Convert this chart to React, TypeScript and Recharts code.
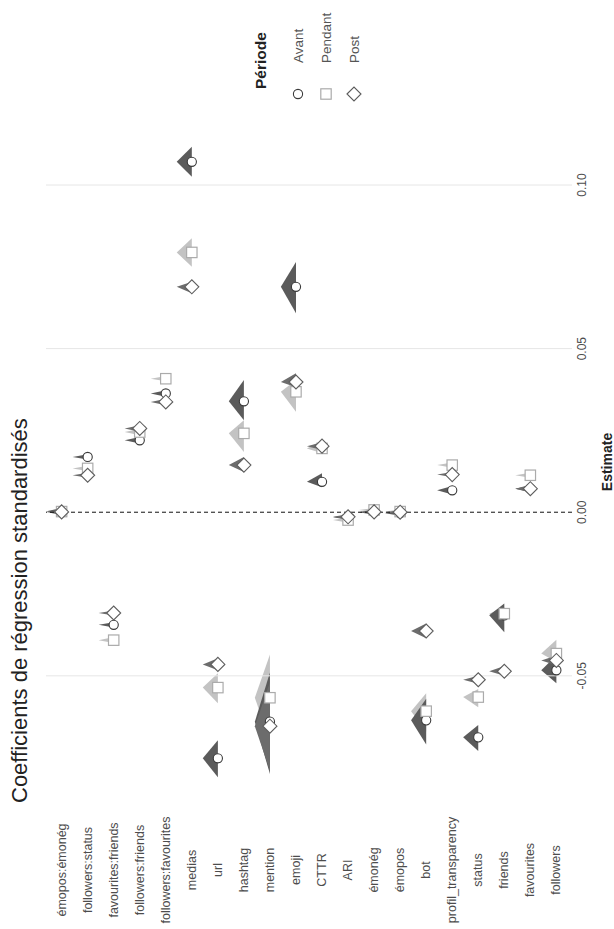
import React from 'react'
import { ComposedChart, Area, Scatter, XAxis, YAxis, ReferenceLine, Label } from 'recharts'

const categories = [
  'émopos:émonég', 'followers:status', 'favourites:friends', 'followers:friends', 'followers:favourites',
  'medias', 'url', 'hashtag', 'mention', 'emoji', 'CTTR', 'ARI', 'émonég', 'émopos', 'bot',
  'profil_transparency', 'status', 'friends', 'favourites', 'followers',
]

// estimates and slab extents per period, same order as categories
const avantEst = [0.0003, 0.0169, -0.0344, 0.0220, 0.0363, 0.1071, -0.0752, 0.0339, -0.0640, 0.0689, 0.0093, -0.0015, 0.0000, -0.0003, -0.0636, 0.0067, -0.0688, -0.0315, 0.0072, -0.0483]
const avantLow = [-0.0007, 0.0161, -0.0352, 0.0210, 0.0353, 0.1025, -0.0810, 0.0281, -0.0800, 0.0608, 0.0076, -0.0023, -0.0008, -0.0011, -0.0710, 0.0054, -0.0730, -0.0367, 0.0062, -0.0523]
const avantHigh = [0.0013, 0.0177, -0.0336, 0.0230, 0.0373, 0.1117, -0.0697, 0.0404, -0.0490, 0.0765, 0.0119, -0.0007, 0.0008, 0.0005, -0.0570, 0.0080, -0.0650, -0.0279, 0.0082, -0.0437]

const pendantEst = [0.0002, 0.0134, -0.0391, 0.0245, 0.0408, 0.0794, -0.0536, 0.0241, -0.0567, 0.0368, 0.0195, -0.0024, 0.0007, 0.0002, -0.0608, 0.0144, -0.0565, -0.0310, 0.0113, -0.0432]
const pendantLow = [-0.0004, 0.0126, -0.0400, 0.0235, 0.0400, 0.0750, -0.0584, 0.0184, -0.0700, 0.0307, 0.0180, -0.0032, 0.0001, -0.0004, -0.0670, 0.0136, -0.0596, -0.0330, 0.0105, -0.0458]
const pendantHigh = [0.0008, 0.0142, -0.0381, 0.0255, 0.0416, 0.0837, -0.0492, 0.0281, -0.0435, 0.0404, 0.0220, -0.0016, 0.0013, 0.0008, -0.0553, 0.0152, -0.0540, -0.0290, 0.0121, -0.0390]

const postEst = [0.0001, 0.0113, -0.0308, 0.0256, 0.0337, 0.0689, -0.0465, 0.0144, -0.0654, 0.0398, 0.0202, -0.0014, 0.0001, 0.0000, -0.0363, 0.0115, -0.0512, -0.0486, 0.0072, -0.0453]
const postLow = [-0.0009, 0.0105, -0.0316, 0.0246, 0.0327, 0.0669, -0.0483, 0.0123, -0.0790, 0.0382, 0.0190, -0.0022, -0.0005, -0.0006, -0.0385, 0.0107, -0.0524, -0.0500, 0.0060, -0.0468]
const postHigh = [0.0011, 0.0121, -0.0300, 0.0266, 0.0347, 0.0704, -0.0446, 0.0169, -0.0520, 0.0425, 0.0214, -0.0006, 0.0007, 0.0006, -0.0340, 0.0123, -0.0500, -0.0470, 0.0084, -0.0438]

const estimateTicks = [-0.05, 0, 0.05, 0.1]

const W = 929
const H = 614
const SLAB_DEPTH = 0.58
const FONT = '"Liberation Sans", Arial, sans-serif'

type Shape = 'circle' | 'square' | 'diamond'

const series = [
  { name: 'Avant', est: avantEst, low: avantLow, high: avantHigh, slab: '#5b5b5b', stroke: '#3a3a3a', shape: 'circle' as Shape },
  { name: 'Pendant', est: pendantEst, low: pendantLow, high: pendantHigh, slab: '#c3c3c3', stroke: '#ababab', shape: 'square' as Shape },
  { name: 'Post', est: postEst, low: postLow, high: postHigh, slab: '#6c6c6c', stroke: '#5e5e5e', shape: 'diamond' as Shape },
]

// light slabs go underneath the dark ones
const slabOrder = [1, 0, 2]

function slabPoints(s: typeof series[number], i: number) {
  return [
    { x: s.low[i], band: [i, i] },
    { x: s.est[i], band: [i - SLAB_DEPTH, i] },
    { x: s.high[i], band: [i, i] },
  ]
}

function Marker({ shape, cx, cy, stroke }: { shape: Shape; cx: number; cy: number; stroke: string }) {
  if (shape === 'circle') return <circle cx={cx} cy={cy} r={4.6} fill="#fff" stroke={stroke} strokeWidth={1.1} />
  if (shape === 'square') return <rect x={cx - 5.2} y={cy - 5.2} width={10.4} height={10.4} fill="#fff" stroke={stroke} strokeWidth={1.2} />
  const d = 7
  return <polygon points={`${cx},${cy - d} ${cx + d},${cy} ${cx},${cy + d} ${cx - d},${cy}`} fill="#fff" stroke={stroke} strokeWidth={1.1} />
}

const CategoryTick = (props: any) => {
  const { x, y, payload } = props
  return (
    <text x={x - 61} y={y} textAnchor="middle" dominantBaseline="central" fontSize={12.5} fill="#4d4d4d" fontFamily={FONT}>
      {categories[payload.value]}
    </text>
  )
}

function PeriodLegend() {
  return (
    <>
      <div style={{ position: 'absolute', left: 840, top: 252, fontSize: 15.5, fontWeight: 'bold', color: '#222', lineHeight: '18px', whiteSpace: 'nowrap' }}>
        Période
      </div>
      {series.map((s, k) => (
        <div key={s.name} style={{ position: 'absolute', left: 826, top: 298 + 28 * k - 9, height: 18, display: 'flex', alignItems: 'center' }}>
          <svg width={18} height={18}>
            <Marker shape={s.shape} cx={9} cy={9} stroke={s.stroke} />
          </svg>
          <span style={{ marginLeft: 22, fontSize: 13.5, color: '#555', whiteSpace: 'nowrap' }}>{s.name}</span>
        </div>
      ))}
    </>
  )
}

export default function App() {
  return (
    <div style={{ position: 'absolute', left: 0, top: 0, width: H, height: W, overflow: 'hidden', background: '#fff', fontFamily: FONT }}>
      <div style={{ position: 'absolute', left: 0, top: 0, width: W, height: H, transform: `translate(0px, ${W}px) rotate(-90deg)`, transformOrigin: '0 0' }}>
        <div style={{ position: 'absolute', left: 126, top: 7, fontSize: 22, color: '#222', whiteSpace: 'nowrap', lineHeight: '26px' }}>
          Coefficients de régression standardisés
        </div>
        <ComposedChart width={W} height={H} margin={{ top: 46, right: 115, bottom: 0, left: 20 }}>
          <XAxis
            type="number"
            dataKey="x"
            domain={[-0.0907, 0.1214]}
            allowDataOverflow
            ticks={estimateTicks}
            tickFormatter={(v: number) => v.toFixed(2)}
            axisLine={false}
            tickLine={false}
            tickSize={0}
            tickMargin={5}
            height={42}
            tick={{ fontSize: 12, fill: '#4d4d4d', fontFamily: FONT }}
          >
            <Label value="Estimate" position="insideBottom" offset={2} style={{ fontSize: 14, fontWeight: 'bold', fill: '#222', fontFamily: FONT }} />
          </XAxis>
          <YAxis
            type="number"
            dataKey="y"
            domain={[-0.6, 19.6]}
            allowDataOverflow
            reversed
            ticks={categories.map((_, i) => i)}
            interval={0}
            width={100}
            axisLine={false}
            tickLine={false}
            tickSize={0}
            tickMargin={0}
            tick={<CategoryTick />}
          />
          {estimateTicks.filter((t) => t !== 0).map((t) => (
            <ReferenceLine key={t} x={t} stroke="#e6e6e6" strokeWidth={1} />
          ))}
          <ReferenceLine x={0} stroke="#111" strokeWidth={1} strokeDasharray="4 3" />
          {slabOrder.map((k) =>
            categories.map((c, i) => (
              <Area
                key={`${series[k].name}-${c}`}
                data={slabPoints(series[k], i)}
                dataKey="band"
                type="linear"
                stroke="none"
                fill={series[k].slab}
                fillOpacity={1}
                dot={false}
                activeDot={false}
                isAnimationActive={false}
              />
            ))
          )}
          {series.map((s) => (
            <Scatter
              key={s.name}
              name={s.name}
              data={categories.map((c, i) => ({ x: s.est[i], y: i }))}
              shape={(p: any) => <Marker shape={s.shape} cx={p.cx} cy={p.cy} stroke={s.stroke} />}
              isAnimationActive={false}
            />
          ))}
        </ComposedChart>
        <PeriodLegend />
      </div>
    </div>
  )
}
